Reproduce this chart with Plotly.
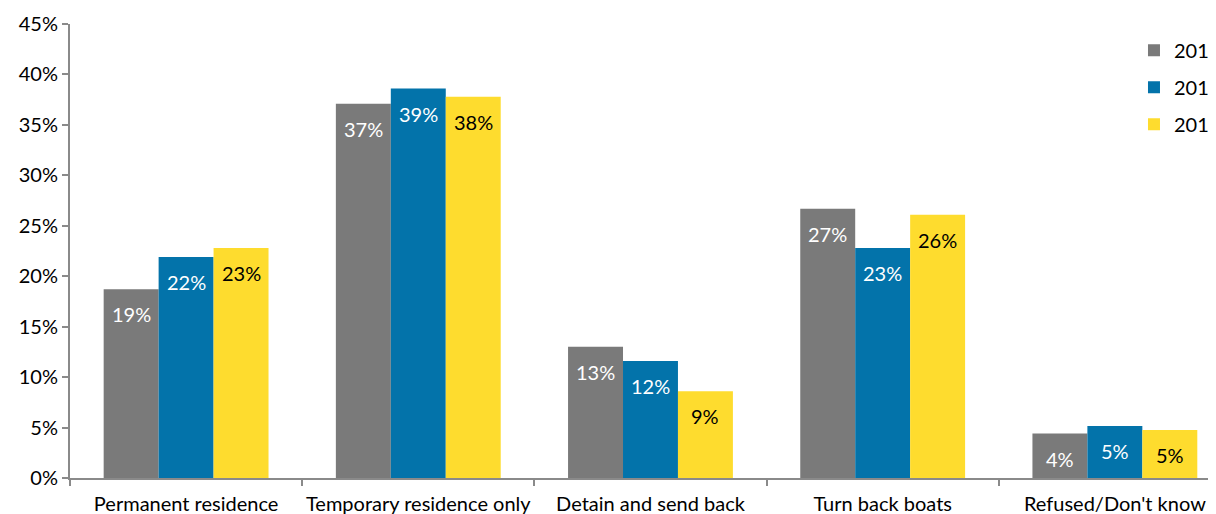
import plotly.graph_objects as go

categories = ["Permanent residence", "Temporary residence only", "Detain and send back",
              "Turn back boats", "Refused/Don't know"]
years = ["2010", "2011", "2012"]
values_2010 = [18.7, 37.1, 13.0, 26.7, 4.4]
values_2011 = [21.9, 38.6, 11.6, 22.8, 5.15]
values_2012 = [22.8, 37.8, 8.6, 26.1, 4.75]
series = [values_2010, values_2011, values_2012]
colors = ["#7a7a7a", "#0373aa", "#fedc2e"]
label_colors = ["white", "white", "black"]

FONT = "Lato, Carlito, Calibri, sans-serif"
FS = 20
BARGAP = 0.29

fig = go.Figure()
for i, (yr, vals) in enumerate(zip(years, series)):
    fig.add_trace(go.Bar(
        x=categories, y=vals, name=yr, legendgroup=yr,
        marker=dict(color=colors[i], line=dict(width=0)),
    ))

bw = (1 - BARGAP) / 3
annotations = []
for i, vals in enumerate(series):
    for j, v in enumerate(vals):
        annotations.append(dict(
            x=j + (i - 1) * bw, y=v, xref="x", yref="y",
            text=f"{round(v):d}%", showarrow=False, yshift=-25,
            font=dict(family=FONT, size=FS, color=label_colors[i]),
        ))

fig.update_layout(
    width=1216, height=514,
    margin=dict(l=62, r=0, t=16, b=44, autoexpand=False),
    paper_bgcolor="white", plot_bgcolor="white",
    barmode="group", bargap=BARGAP, bargroupgap=0,
    font=dict(family=FONT, size=FS, color="black"),
    showlegend=True,
    legend=dict(x=0.922, y=0.985, xanchor="left", yanchor="top",
                font=dict(family=FONT, size=FS), tracegroupgap=8,
                bgcolor="rgba(0,0,0,0)"),
    annotations=annotations,
)
fig.update_xaxes(
    type="category", range=[-0.5, 4.47], tickangle=0, ticklabelstandoff=7,
    showline=True, linecolor="#8a8a8a", linewidth=2,
    ticks="outside", tickson="boundaries", ticklen=6, tickcolor="#8a8a8a", tickwidth=2,
    showgrid=False, tickfont=dict(family=FONT, size=FS),
)
fig.update_yaxes(
    range=[0, 45], dtick=5, ticksuffix="%",
    showline=True, linecolor="#8a8a8a", linewidth=2,
    ticks="outside", ticklen=6, tickcolor="#8a8a8a", tickwidth=2,
    showgrid=False, zeroline=False, tickfont=dict(family=FONT, size=FS),
)

fig.write_html("out.html")
